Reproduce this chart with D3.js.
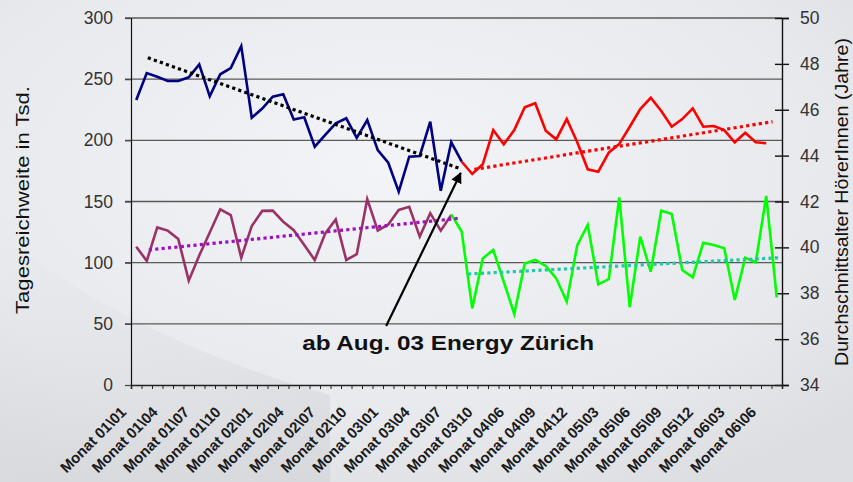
<!DOCTYPE html>
<html><head><meta charset="utf-8">
<script src="https://cdn.jsdelivr.net/npm/d3@7"></script>
<style>
html,body{margin:0;padding:0;background:#e8eaee;}
svg{display:block;}
</style></head>
<body>
<svg id="c" width="853" height="482"></svg>
<script>
// ---------- DATA ----------
const categories = [
 "Monat 01\\01","Monat 01\\02","Monat 01\\03","Monat 01\\04","Monat 01\\05","Monat 01\\06","Monat 01\\07","Monat 01\\08","Monat 01\\09","Monat 01\\10","Monat 01\\11","Monat 01\\12",
 "Monat 02\\01","Monat 02\\02","Monat 02\\03","Monat 02\\04","Monat 02\\05","Monat 02\\06","Monat 02\\07","Monat 02\\08","Monat 02\\09","Monat 02\\10","Monat 02\\11","Monat 02\\12",
 "Monat 03\\01","Monat 03\\02","Monat 03\\03","Monat 03\\04","Monat 03\\05","Monat 03\\06","Monat 03\\07","Monat 03\\08","Monat 03\\09","Monat 03\\10",
 "Monat 04\\04","Monat 04\\05","Monat 04\\06","Monat 04\\07","Monat 04\\08","Monat 04\\09","Monat 04\\10","Monat 04\\11","Monat 04\\12",
 "Monat 05\\01","Monat 05\\02","Monat 05\\03","Monat 05\\04","Monat 05\\05","Monat 05\\06","Monat 05\\07","Monat 05\\08","Monat 05\\09","Monat 05\\10","Monat 05\\11","Monat 05\\12",
 "Monat 06\\01","Monat 06\\02","Monat 06\\03","Monat 06\\04","Monat 06\\05","Monat 06\\06","Monat 06\\07"
];
// Tagesreichweite (left axis), before / after Aug 03
const reachBeforeStart = 0;
const reachBefore = [233,255,252,248.5,248.5,251.5,262,236,254,259,277,218.5,226,235.7,237.6,217,218.8,194.8,204.4,213.9,218,202,216.6,192,181.7,158,186.6,187.2,215.2,158.8,198.4,182.5];
const reachAfterStart = 31;
const reachAfter = [182.5,172.5,180.4,208.4,196.7,208.4,227,230.3,207.9,200.8,217.4,198.5,176.3,174.4,189.9,197,211.1,225.6,234.8,224,211.1,217.4,226.2,211.1,211.7,208.4,198.4,206.2,198.4,197.6];
// Durchschnittsalter (right axis), before / after
const ageBeforeStart = 0;
const ageBefore = [40.03,39.41,40.87,40.73,40.37,38.55,39.65,40.65,41.66,41.41,39.55,40.93,41.59,41.6,41.12,40.75,40.1,39.45,40.61,41.22,39.45,39.7,42.1,40.73,41.0,41.63,41.77,40.47,41.49,40.73,41.41];
const ageAfterStart = 30;
const ageAfter = [41.44,40.68,37.34,39.52,39.89,38.5,37.1,39.3,39.45,39.19,38.65,37.63,40.1,40.98,38.39,38.61,42.18,37.39,40.47,38.94,41.6,41.45,39.01,38.69,40.2,40.1,39.96,37.71,39.55,39.35,42.24,37.82];
// trend lines: [category position, value]
const trendReachBefore = [[1.6,267.5],[31.3,177]];
const trendReachAfter  = [[32.7,176.3],[61.1,215.2]];
const trendAgeBefore   = [[1.7,39.89],[31.3,41.27]];
const trendAgeAfter    = [[32.1,38.84],[61.8,39.55]];
// annotation arrow: [category position, left-axis value]
const arrowFrom = [24.3,48.2], arrowTo = [31.4,173.3];
const annotation = "ab Aug. 03 Energy Zürich";
const leftTicks = [0,50,100,150,200,250,300];
const rightTicks = [34,36,38,40,42,44,46,48,50];
const leftTitle = "Tagesreichweite in Tsd.";
const rightTitle = "Durchschnittsalter HörerInnen (Jahre)";

// ---------- CHART ----------
const svg = d3.select("#c");
const L = 131, R = 782, T = 18, B = 385;
const FF = "'Liberation Sans',Arial,sans-serif";

// background
const defs = svg.append("defs");
const rg = defs.append("radialGradient").attr("id","bg").attr("cx","45%").attr("cy","35%").attr("r","75%");
rg.append("stop").attr("offset","0%").attr("stop-color","#f3f4f7");
rg.append("stop").attr("offset","70%").attr("stop-color","#e7e9ed");
rg.append("stop").attr("offset","100%").attr("stop-color","#dcdee2");
svg.append("rect").attr("width",853).attr("height",482).attr("fill","url(#bg)");
const lg = defs.append("linearGradient").attr("id","bl").attr("x1","0").attr("y1","0").attr("x2","1").attr("y2","1");
lg.append("stop").attr("offset","0%").attr("stop-color","#d2d3d6").attr("stop-opacity",0);
lg.append("stop").attr("offset","100%").attr("stop-color","#cdced2").attr("stop-opacity",0.5);
svg.append("path").attr("d","M0,230 C60,290 200,360 330,395 L330,482 L0,482 Z").attr("fill","url(#bl)");

defs.append("marker").attr("id","ah").attr("viewBox","0 0 10 10").attr("refX",9).attr("refY",5)
  .attr("markerWidth",5).attr("markerHeight",5).attr("orient","auto")
  .append("path").attr("d","M0,0 L10,5 L0,10 Z").attr("fill","#000");

const x = d3.scaleBand().domain(categories).range([L,R]).padding(0);
const xp = d3.scaleLinear().domain([0,categories.length]).range([L,R]);
const yL = d3.scaleLinear().domain([0,300]).range([B,T]);
const yR = d3.scaleLinear().domain([34,50]).range([B,T]);

// gridlines
svg.append("g").selectAll("line").data(leftTicks.filter(d=>d>0)).join("line")
  .attr("x1",L-6).attr("x2",R).attr("y1",d=>yL(d)).attr("y2",d=>yL(d))
  .attr("stroke","#5a5a5a").attr("stroke-width",1.4);

// left axis
const gl = svg.append("g").attr("transform",`translate(${L},0)`)
  .call(d3.axisLeft(yL).tickValues(leftTicks).tickSize(6).tickPadding(12));
gl.select(".domain").attr("stroke","#111").attr("stroke-width",1.2);
gl.selectAll(".tick line").attr("stroke","#444").attr("stroke-width",1.2);
gl.selectAll("text").attr("font-family",FF).attr("font-size",17.5).attr("fill","#333");

// right axis
const gr = svg.append("g").attr("transform",`translate(${R},0)`)
  .call(d3.axisRight(yR).tickValues(rightTicks).tickSize(7).tickPadding(11));
gr.select(".domain").attr("stroke","#111").attr("stroke-width",1.4);
gr.selectAll(".tick line").attr("x1",-7).attr("stroke","#111").attr("stroke-width",1.4);
gr.selectAll("text").attr("font-family",FF).attr("font-size",17.5).attr("fill","#333");

// bottom axis
const gb = svg.append("g").attr("transform",`translate(0,${B})`)
  .call(d3.axisBottom(xp).tickValues(d3.range(0,categories.length+1)).tickSize(4).tickFormat(""));
gb.select(".domain").attr("stroke","#222").attr("stroke-width",1.6);
gb.selectAll(".tick line").attr("stroke","#222").attr("stroke-width",1);
svg.append("g").selectAll("text").data(categories.filter((d,i)=>i%3===0)).join("text")
  .attr("transform",d=>`translate(${x(d)+x.bandwidth()/2-9},${B+28}) rotate(-45)`)
  .attr("text-anchor","end")
  .attr("font-family",FF).attr("font-size",15).attr("font-weight","bold").attr("fill","#1a1a1a")
  .text(d=>d);

// axis titles
svg.append("text").attr("transform",`translate(29,200) rotate(-90)`).attr("text-anchor","middle")
  .attr("font-family",FF).attr("font-size",19).attr("fill","#111")
  .attr("textLength",228).attr("lengthAdjust","spacingAndGlyphs").text(leftTitle);
svg.append("text").attr("transform",`translate(848,202) rotate(-90)`).attr("text-anchor","middle")
  .attr("font-family",FF).attr("font-size",18).attr("fill","#111")
  .attr("textLength",328).attr("lengthAdjust","spacingAndGlyphs").text(rightTitle);

// series
function drawSeries(vals,start,y,color){
  const line = d3.line().x((d,i)=>x(categories[start+i])+x.bandwidth()/2).y(d=>y(d));
  svg.append("path").datum(vals).attr("d",line).attr("fill","none").attr("stroke",color)
    .attr("stroke-width",2.6).attr("stroke-linejoin","miter");
}
function drawTrend(pts,y,color){
  const line = d3.line().x(d=>xp(d[0])).y(d=>y(d[1]));
  svg.append("path").datum(pts).attr("d",line).attr("fill","none").attr("stroke",color)
    .attr("stroke-width",3.2).attr("stroke-dasharray","3.2,3.2");
}
drawSeries(ageBefore,ageBeforeStart,yR,"#993366");
drawSeries(ageAfter,ageAfterStart,yR,"#00ff00");
drawSeries(reachBefore,reachBeforeStart,yL,"#000080");
drawSeries(reachAfter,reachAfterStart,yL,"#ff0000");
drawTrend(trendAgeBefore,yR,"#a010c0");
drawTrend(trendAgeAfter,yR,"#20c8a8");
drawTrend(trendReachBefore,yL,"#000000");
drawTrend(trendReachAfter,yL,"#ff0000");

// annotation
svg.append("line").attr("x1",xp(arrowFrom[0])).attr("y1",yL(arrowFrom[1]))
  .attr("x2",xp(arrowTo[0])).attr("y2",yL(arrowTo[1]))
  .attr("stroke","#000").attr("stroke-width",2.2).attr("marker-end","url(#ah)");
svg.append("text").attr("x",xp(arrowFrom[0])-84).attr("y",yL(arrowFrom[1])+24)
  .attr("font-family",FF).attr("font-size",21).attr("font-weight","bold")
  .attr("textLength",292).attr("lengthAdjust","spacingAndGlyphs")
  .attr("fill","#111").text(annotation);
</script>
</body></html>
